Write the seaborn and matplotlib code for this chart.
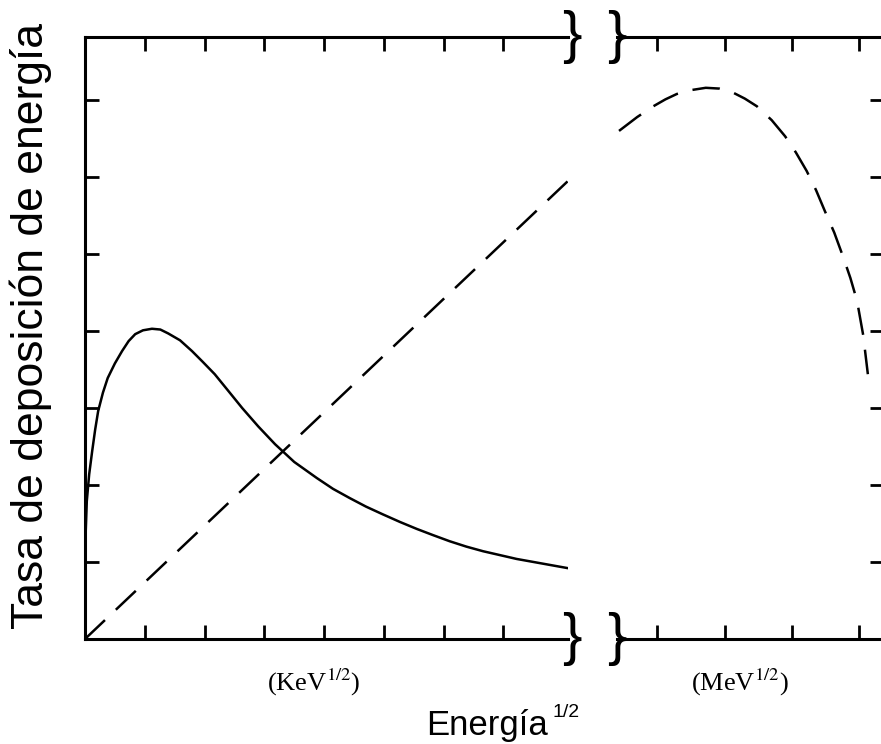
import matplotlib
matplotlib.use("Agg")
import matplotlib.pyplot as plt
import seaborn as sns

# solid curve, low-energy part (KeV^1/2)
kev_x = [0.0, 0.01, 0.03, 0.07, 0.12, 0.17, 0.22, 0.30, 0.38, 0.50, 0.62,
         0.73, 0.84, 0.97, 1.12, 1.26, 1.39, 1.59, 1.79, 1.97, 2.17, 2.39,
         2.63, 2.90, 3.18, 3.50, 3.88, 4.15, 4.43, 4.70, 4.98, 5.27, 5.55,
         5.82, 6.10, 6.38, 6.66, 6.94, 7.22, 7.65, 8.08]
kev_solid = [1.0, 1.35, 1.79, 2.14, 2.44, 2.72, 2.96, 3.20, 3.39, 3.58, 3.74,
             3.87, 3.96, 4.01, 4.03, 4.02, 3.97, 3.88, 3.74, 3.60, 3.44, 3.23,
             3.00, 2.76, 2.53, 2.30, 2.09, 1.95, 1.83, 1.72, 1.62, 1.52, 1.43,
             1.35, 1.27, 1.20, 1.14, 1.09, 1.04, 0.98, 0.92]

# dashed straight line, low-energy part
kev_dash_x = [0.0, 8.08]
kev_dash_y = [0.0, 5.95]

# dashed curve, high-energy part (MeV^1/2)
mev_x = [0.43, 0.70, 0.94, 1.12, 1.29, 1.50, 1.72, 1.92, 2.12, 2.30, 2.48,
         2.70, 2.90, 3.06, 3.22, 3.36, 3.49, 3.63, 3.76, 3.87, 3.97, 4.06,
         4.13]
mev_dash = [6.60, 6.78, 6.92, 7.01, 7.08, 7.13, 7.16, 7.15, 7.10, 7.02, 6.92,
            6.74, 6.53, 6.32, 6.08, 5.83, 5.56, 5.28, 4.97, 4.69, 4.39, 3.95,
            3.44]

kev_ticks = [1, 2, 3, 4, 5, 6, 7]
mev_ticks = [1, 2, 3, 4]
y_ticks = [1, 2, 3, 4, 5, 6, 7]

sns.set_theme(style="ticks")
plt.rcParams["font.family"] = ["Liberation Sans", "DejaVu Sans"]
plt.rcParams["mathtext.fontset"] = "stix"
plt.rcParams["text.color"] = "black"

W, H = 881, 744
fig = plt.figure(figsize=(W / 100, H / 100), dpi=100)

def box(x0, x1, y0, y1):
    return [x0 / W, 1 - y1 / H, (x1 - x0) / W, (y1 - y0) / H]

ax1 = fig.add_axes(box(85, 568, 37, 639))
ax2 = fig.add_axes(box(617, 884, 37, 639), sharey=ax1)

lw = 1.8
dash = (0, (11, 6))

sns.lineplot(x=kev_x, y=kev_solid, ax=ax1, color="black", lw=lw,
             estimator=None, sort=False)
sns.lineplot(x=kev_dash_x, y=kev_dash_y, ax=ax1, color="black", lw=lw,
             linestyle=dash, estimator=None, sort=False)
sns.lineplot(x=mev_x, y=mev_dash, ax=ax2, color="black", lw=lw,
             linestyle=dash, estimator=None, sort=False)

ax1.set_xlim(0, 8.08)
ax1.set_ylim(0, 7.82)
ax2.set_xlim(0.40, 4.37)

for ax in (ax1, ax2):
    for s in ax.spines.values():
        s.set_linewidth(2.2)
        s.set_color("black")
    ax.set_xlabel("")
    ax.set_ylabel("")
    ax.tick_params(direction="in", length=10, width=2.0, color="black",
                   labelbottom=False, labelleft=False, labeltop=False,
                   labelright=False)

ax1.spines["right"].set_visible(False)
ax1.set_xticks(kev_ticks)
ax1.set_yticks(y_ticks)
ax1.tick_params(top=True, bottom=True, left=True, right=False)

ax2.spines["left"].set_visible(False)
ax2.set_xticks(mev_ticks)
ax2.tick_params(top=True, bottom=True, left=False, right=True)

# axis break braces
for bx in (572, 617):
    for by in (37, 639):
        fig.text(bx / W, 1 - by / H, "}", fontsize=42,
                 ha="center", va="center")

fig.text(314 / W, 1 - 691 / H, r"(KeV$^{1/2}$)", family="Liberation Serif",
         fontsize=19, ha="center", va="baseline")
fig.text(740 / W, 1 - 691 / H, r"(MeV$^{1/2}$)", family="Liberation Serif",
         fontsize=19, ha="center", va="baseline")

fig.text(426 / W, 1 - 735 / H, "Energía", fontsize=25, ha="left",
         va="baseline")
fig.text(552 / W, 1 - 717 / H, "1/2", fontsize=14, ha="left", va="baseline")

fig.text(31 / W, 1 - 326 / H, "Tasa de deposición de energía", fontsize=32,
         rotation=90, ha="center", va="center")

fig.savefig("out.png", dpi=100)
